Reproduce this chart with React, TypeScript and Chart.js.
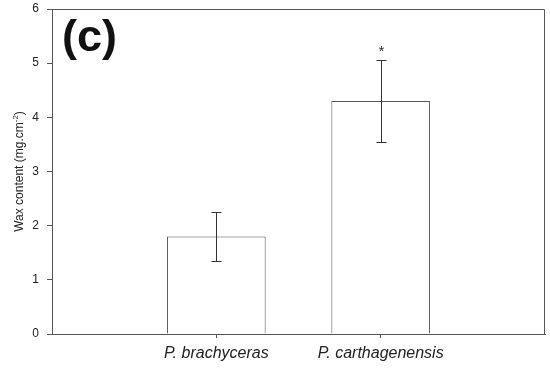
import React, { useEffect, useRef } from "react";
import { Chart, registerables } from "chart.js";

Chart.register(...registerables);

const categories = ["P. brachyceras", "P. carthagenensis"];
const waxValues = [1.8, 4.3];
const waxErrors = [0.45, 0.76];
const significance = ["", "*"];
const yTicks = [0, 1, 2, 3, 4, 5, 6];
const panelLabel = "(c)";

const FONT = "Arial, 'Liberation Sans', Helvetica, sans-serif";

const overlayPlugin = {
  id: "overlay",
  afterDatasetsDraw(chart: any) {
    const { ctx, chartArea, scales } = chart;
    const x = scales.x;
    const y = scales.y;
    ctx.save();
    // box frame (top and right)
    ctx.strokeStyle = "#555";
    ctx.lineWidth = 1;
    const t = Math.round(chartArea.top) + 0.5;
    const r = Math.round(chartArea.right) - 0.5;
    ctx.beginPath();
    ctx.moveTo(chartArea.left, t);
    ctx.lineTo(r, t);
    ctx.lineTo(r, chartArea.bottom);
    ctx.stroke();

    // error bars
    ctx.strokeStyle = "#333";
    waxValues.forEach((v, i) => {
      const xp = Math.round(x.getPixelForValue(i + 1)) + 0.5;
      const yHi = Math.round(y.getPixelForValue(v + waxErrors[i])) + 0.5;
      const yLo = Math.round(y.getPixelForValue(v - waxErrors[i])) + 0.5;
      ctx.beginPath();
      ctx.moveTo(xp, yHi);
      ctx.lineTo(xp, yLo);
      ctx.moveTo(xp - 5, yHi);
      ctx.lineTo(xp + 5, yHi);
      ctx.moveTo(xp - 5, yLo);
      ctx.lineTo(xp + 5, yLo);
      ctx.stroke();
      if (significance[i]) {
        ctx.fillStyle = "#222";
        ctx.font = `14px ${FONT}`;
        ctx.textAlign = "center";
        ctx.textBaseline = "alphabetic";
        ctx.fillText(significance[i], xp, yHi - 5);
      }
    });

    // panel label
    ctx.fillStyle = "#111";
    ctx.font = `bold 45px ${FONT}`;
    ctx.textAlign = "left";
    ctx.textBaseline = "alphabetic";
    ctx.fillText(panelLabel, chartArea.left + 10, 51);

    // y-axis title with superscript
    const cy = (chartArea.top + chartArea.bottom) / 2;
    ctx.translate(23, cy);
    ctx.rotate(-Math.PI / 2);
    const main = "Wax content (mg.cm";
    const sup = "-2";
    const close = ")";
    ctx.font = `12px ${FONT}`;
    const w1 = ctx.measureText(main).width;
    const w3 = ctx.measureText(close).width;
    ctx.font = `8px ${FONT}`;
    const w2 = ctx.measureText(sup).width;
    const total = w1 + w2 + w3;
    let sx = -total / 2;
    ctx.fillStyle = "#222";
    ctx.textAlign = "left";
    ctx.font = `12px ${FONT}`;
    ctx.fillText(main, sx, 0);
    sx += w1;
    ctx.font = `8px ${FONT}`;
    ctx.fillText(sup, sx, -5);
    sx += w2;
    ctx.font = `12px ${FONT}`;
    ctx.fillText(close, sx, 0);
    ctx.restore();
  },
};

export default function App() {
  const ref = useRef<HTMLCanvasElement | null>(null);
  useEffect(() => {
    if (!ref.current) return;
    const labels = ["", ...categories, ""];
    const data = [null, ...waxValues, null];
    const chart = new Chart(ref.current, {
      type: "bar",
      data: {
        labels,
        datasets: [
          {
            data,
            backgroundColor: "#ffffff",
            borderColor: "#555",
            borderWidth: 1,
            barPercentage: 0.6,
            categoryPercentage: 1,
          } as any,
        ],
      },
      options: {
        responsive: false,
        animation: false,
        layout: { padding: { top: 9, right: 5, left: 0, bottom: 0 } },
        plugins: {
          legend: { display: false },
          tooltip: { enabled: false },
        },
        scales: {
          x: {
            type: "category",
            offset: false,
            grid: {
              offset: false,
              drawOnChartArea: false,
              tickLength: 4,
              tickColor: (c: any) =>
                c.index === 0 || c.index === labels.length - 1 ? "rgba(0,0,0,0)" : "#555",
            },
            border: { color: "#555", width: 1 },
            ticks: {
              autoSkip: false,
              maxRotation: 0,
              padding: 6,
              color: "#222",
              font: { family: FONT, size: 16, style: "italic" },
            },
            afterFit: (s: any) => {
              s.height = 35;
              s.paddingLeft = 0;
              s.paddingRight = 0;
            },
          },
          y: {
            min: 0,
            max: 6,
            afterBuildTicks: (s: any) => {
              s.ticks = yTicks.map((v) => ({ value: v }));
            },
            grid: { drawOnChartArea: false, tickLength: 5, tickColor: "#555" },
            border: { color: "#555", width: 1 },
            ticks: {
              padding: 8,
              color: "#222",
              font: { family: FONT, size: 12 },
            },
            afterFit: (s: any) => {
              s.width = 52;
              s.paddingTop = 0;
              s.paddingBottom = 0;
            },
          },
        },
      },
      plugins: [overlayPlugin],
    });
    return () => chart.destroy();
  }, []);
  return (
    <div style={{ position: "fixed", left: 0, top: 0, width: 550, height: 369, background: "#fff" }}>
      <canvas ref={ref} width={550} height={369} style={{ display: "block" }} />
    </div>
  );
}
